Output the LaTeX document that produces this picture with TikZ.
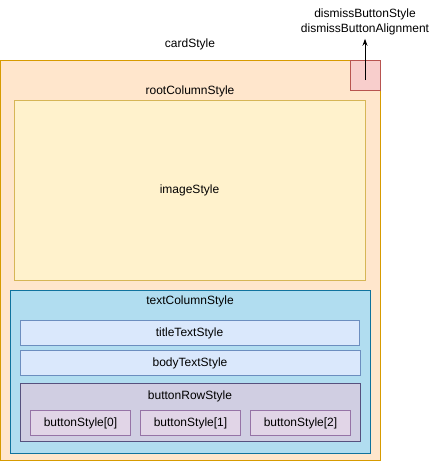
\documentclass[tikz,border=0pt]{standalone}
\usepackage{fontspec}
\setmainfont{Liberation Sans}
\usetikzlibrary{arrows.meta, positioning}

\definecolor{cardfill}{HTML}{FFE6CC}	\definecolor{carddraw}{HTML}{D79B00}
\definecolor{imagefill}{HTML}{FFF2CC}	\definecolor{imagedraw}{HTML}{D6B656}
\definecolor{dismissfill}{HTML}{F8CECC}	\definecolor{dismissdraw}{HTML}{B85450}
\definecolor{columnfill}{HTML}{B1DDF0}	\definecolor{columndraw}{HTML}{10739E}
\definecolor{textfill}{HTML}{DAE8FC}	\definecolor{textdraw}{HTML}{6C8EBF}
\definecolor{rowfill}{HTML}{D0CEE2}		\definecolor{rowdraw}{HTML}{56517E}
\definecolor{buttonfill}{HTML}{E1D5E7}	\definecolor{buttondraw}{HTML}{9673A6}

\tikzset{
	box/.style={draw, line width=1pt, inner sep=0pt, outer sep=0pt},
	caption/.style={inner sep=0pt}
}

\begin{document}
\begin{tikzpicture}[x=1pt, y=-1pt, font=\fontsize{12}{15}\selectfont]
	\useasboundingbox (0, 0) rectangle (441, 461);

	% card and image
	\node[box, fill=cardfill, draw=carddraw, minimum width=380pt, minimum height=400pt]	(card)	at	(190, 260)	{};
	\node[caption]	(cardlabel)	at	(190, 44)	{cardStyle};
	\node[caption]	(rootlabel)	at	(190, 91)	{rootColumnStyle};
	\node[box, fill=imagefill, draw=imagedraw, minimum width=351pt, minimum height=180pt]	(image)	at	(189.5, 190)	{imageStyle};

	% dismiss button
	\node[box, fill=dismissfill, draw=dismissdraw, minimum width=30pt, minimum height=30pt]	(dismiss)	at	(365, 75)	{};
	\coordinate	(dismissfrom)	at	(365, 80);
	\node[inner sep=4pt, align=center]	(dismisslabel)	at	(365, 21.5)	{dismissButtonStyle \\ dismissButtonAlignment};
	\draw[-{Stealth[length=7pt, width=5pt]}, line width=1pt]	(dismissfrom)	--	(dismisslabel.south);

	% text column
	\node[box, fill=columnfill, draw=columndraw, minimum width=360pt, minimum height=163pt]	(column)	at	(190, 371.5)	{};
	\node[caption]	(columnlabel)	at	(190, 301)	{textColumnStyle};
	\node[box, fill=textfill, draw=textdraw, minimum width=339pt, minimum height=25pt]	(title)	at	(189.5, 333)	{titleTextStyle};
	\node[box, fill=textfill, draw=textdraw, minimum width=340pt, minimum height=25pt]	(body)	at	(190, 363)	{bodyTextStyle};

	% button row
	\node[box, fill=rowfill, draw=rowdraw, minimum width=340pt, minimum height=58pt]	(row)	at	(190, 412)	{};
	\node[caption]	(rowlabel)	at	(190, 396)	{buttonRowStyle};
	\foreach \i/\x in {0/80.5, 1/190.5, 2/300.5}
		\node[box, fill=buttonfill, draw=buttondraw, minimum width=100pt, minimum height=25pt]	(button\i)	at	(\x, 423)	{buttonStyle[\i]};

\end{tikzpicture}
\end{document}
